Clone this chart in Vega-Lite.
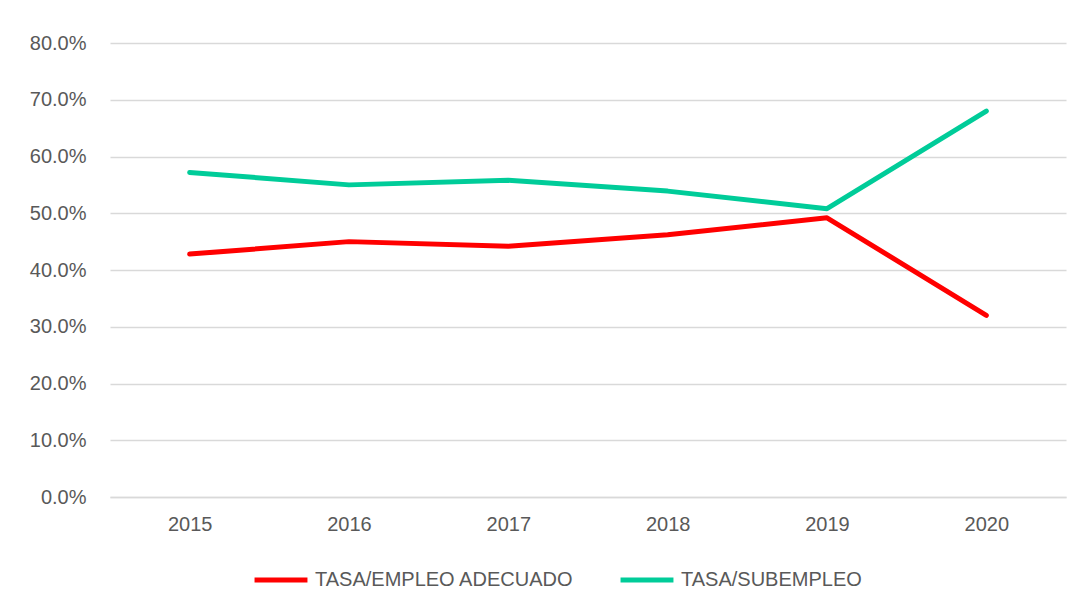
{
  "$schema": "https://vega.github.io/schema/vega-lite/v6.json",
  "autosize": "none",
  "width": 956,
  "height": 454,
  "padding": {"left": 110, "top": 43, "right": 17, "bottom": 115},
  "background": "white",
  "data": {
    "values": [
      {"year": "2015", "serie": "TASA/EMPLEO ADECUADO", "valor": 0.428},
      {"year": "2016", "serie": "TASA/EMPLEO ADECUADO", "valor": 0.450},
      {"year": "2017", "serie": "TASA/EMPLEO ADECUADO", "valor": 0.442},
      {"year": "2018", "serie": "TASA/EMPLEO ADECUADO", "valor": 0.462},
      {"year": "2019", "serie": "TASA/EMPLEO ADECUADO", "valor": 0.492},
      {"year": "2020", "serie": "TASA/EMPLEO ADECUADO", "valor": 0.320},
      {"year": "2015", "serie": "TASA/SUBEMPLEO", "valor": 0.572},
      {"year": "2016", "serie": "TASA/SUBEMPLEO", "valor": 0.550},
      {"year": "2017", "serie": "TASA/SUBEMPLEO", "valor": 0.558},
      {"year": "2018", "serie": "TASA/SUBEMPLEO", "valor": 0.539},
      {"year": "2019", "serie": "TASA/SUBEMPLEO", "valor": 0.508},
      {"year": "2020", "serie": "TASA/SUBEMPLEO", "valor": 0.680}
    ]
  },
  "mark": {"type": "line", "strokeWidth": 5, "strokeCap": "round", "strokeJoin": "round"},
  "encoding": {
    "x": {
      "field": "year", "type": "ordinal", "title": null,
      "scale": {"type": "point", "padding": 0.5},
      "axis": {"labelAngle": 0, "ticks": false, "domain": true, "domainColor": "#d9d9d9", "domainWidth": 1.5, "labelPadding": 17, "labelFontSize": 20, "labelFont": "Liberation Sans", "labelColor": "#595959", "grid": false}
    },
    "y": {
      "field": "valor", "type": "quantitative", "title": null,
      "scale": {"domain": [0, 0.8], "nice": false},
      "axis": {"values": [0, 0.1, 0.2, 0.3, 0.4, 0.5, 0.6, 0.7, 0.8], "format": ".1%", "ticks": false, "domain": false, "gridColor": "#d9d9d9", "gridWidth": 1.5, "labelPadding": 24, "labelFontSize": 20, "labelFont": "Liberation Sans", "labelColor": "#595959"}
    },
    "color": {
      "field": "serie", "type": "nominal", "title": null,
      "scale": {"domain": ["TASA/EMPLEO ADECUADO", "TASA/SUBEMPLEO"], "range": ["#ff0000", "#00cc99"]},
      "legend": {
        "orient": "none", "direction": "horizontal", "legendX": 142, "legendY": 508,
        "symbolType": "stroke", "symbolStrokeWidth": 5, "symbolSize": 2800,
        "labelFontSize": 20, "labelFont": "Liberation Sans", "labelColor": "#595959",
        "labelOffset": 5, "columnPadding": 36, "labelLimit": 0
      }
    }
  },
  "config": {"view": {"stroke": null}}
}
